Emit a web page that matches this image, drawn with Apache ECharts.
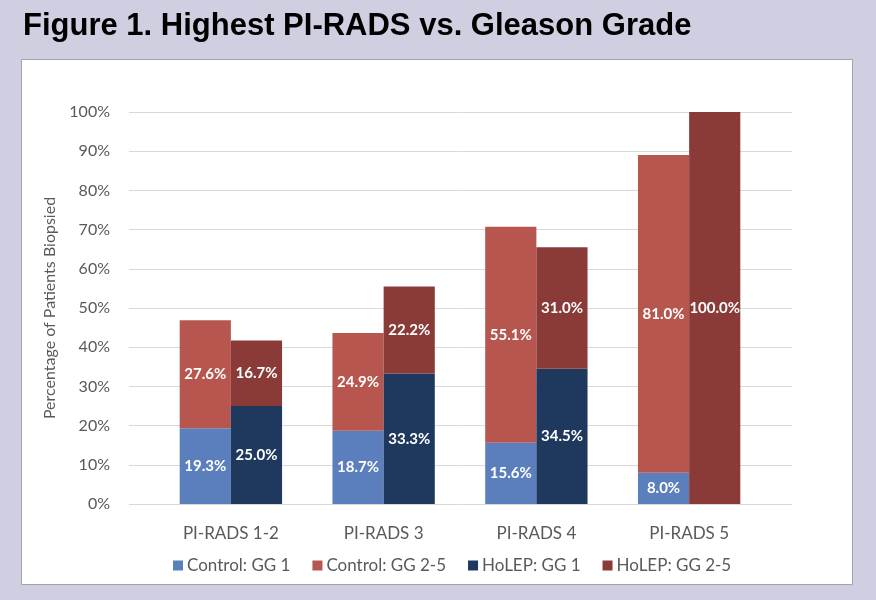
<!DOCTYPE html>
<html>
<head>
<meta charset="utf-8">
<script src="https://cdn.jsdelivr.net/npm/echarts@6/dist/echarts.min.js"></script>
<style>
  html, body { margin: 0; padding: 0; background: #cfcfe1; }
  #chart { width: 876px; height: 600px; }
</style>
</head>
<body>
<div id="chart"></div>
<script>
const categories = ['PI-RADS 1-2', 'PI-RADS 3', 'PI-RADS 4', 'PI-RADS 5']
const controlGG1 = [19.3, 18.7, 15.6, 8.0]
const controlGG25 = [27.6, 24.9, 55.1, 81.0]
const holepGG1 = [25.0, 33.3, 34.5, 0]
const holepGG25 = [16.7, 22.2, 31.0, 100.0]

const textFont = 'Lato'
const greyText = '#595959'

const chart = echarts.init(document.getElementById('chart'))

const barLabel = {
  show: true,
  position: 'inside',
  color: '#ffffff',
  fontFamily: textFont,
  fontWeight: 'bold',
  fontSize: 15,
  formatter: (p) => (p.value ? p.value.toFixed(1) + '%' : '')
}

const makeSeries = (name, stack, data, color) => ({
  name,
  type: 'bar',
  stack,
  xAxisIndex: 1,
  yAxisIndex: 1,
  barGap: 0,
  barCategoryGap: '33%',
  itemStyle: { color },
  label: barLabel,
  data
})

chart.setOption({
  backgroundColor: '#cfcfe1',
  animation: false,
  title: {
    text: 'Figure 1. Highest PI-RADS vs. Gleason Grade',
    left: 18,
    top: 6,
    textStyle: {
      fontFamily: 'Liberation Sans',
      fontWeight: 'bold',
      fontSize: 31,
      color: '#000000'
    }
  },
  graphic: [{
    type: 'rect',
    z: -10,
    shape: { x: 21.5, y: 59.5, width: 831, height: 525 },
    style: { fill: '#ffffff', stroke: '#a3a3ad', lineWidth: 1 }
  }],
  legend: {
    bottom: 21,
    left: 168,
    itemWidth: 10,
    itemHeight: 10,
    itemGap: 22,
    icon: 'rect',
    textStyle: { fontFamily: textFont, fontSize: 17, color: greyText, padding: [0, 0, 0, -1] },
    data: ['Control: GG 1', 'Control: GG 2-5', 'HoLEP: GG 1', 'HoLEP: GG 2-5']
  },
  grid: [
    { left: 129, right: 84, top: 112, bottom: 96 },
    { left: 154.5, right: 110.5, top: 112, bottom: 96 }
  ],
  xAxis: [
    { type: 'category', gridIndex: 0, data: categories, show: false },
    {
      type: 'category',
      gridIndex: 1,
      data: categories,
      axisLine: { show: false },
      axisTick: { show: false },
      axisLabel: { margin: 21, fontFamily: textFont, fontSize: 17, color: greyText }
    }
  ],
  yAxis: [
    {
      type: 'value',
      gridIndex: 0,
      min: 0,
      max: 100,
      interval: 10,
      name: 'Percentage of Patients Biopsied',
      nameLocation: 'middle',
      nameGap: 71,
      nameRotate: 90,
      nameTextStyle: { fontFamily: textFont, fontSize: 16, color: greyText },
      axisLine: { show: false },
      axisTick: { show: false },
      axisLabel: {
        margin: 19,
        fontFamily: textFont,
        fontSize: 16,
        color: greyText,
        formatter: '{value}%'
      },
      splitLine: { lineStyle: { color: '#d9d9d9', width: 1 } }
    },
    { type: 'value', gridIndex: 1, min: 0, max: 100, show: false, splitLine: { show: false } }
  ],
  series: [
    makeSeries('Control: GG 1', 'control', controlGG1, '#5a7fbc'),
    makeSeries('Control: GG 2-5', 'control', controlGG25, '#b6564f'),
    makeSeries('HoLEP: GG 1', 'holep', holepGG1, '#1f395e'),
    makeSeries('HoLEP: GG 2-5', 'holep', holepGG25, '#8a3b37')
  ]
})
</script>
</body>
</html>
